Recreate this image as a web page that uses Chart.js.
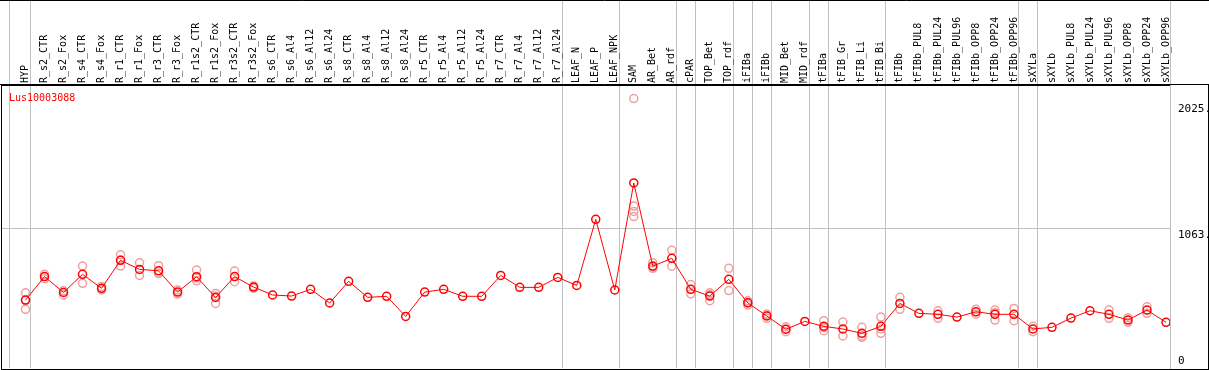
<!DOCTYPE html>
<html>
<head>
<meta charset="utf-8">
<script src="https://cdn.jsdelivr.net/npm/chart.js@4.4.1/dist/chart.umd.min.js"></script>
<style>
  html, body { margin: 0; padding: 0; background: #fff; }
  canvas { display: block; }
</style>
</head>
<body>
<canvas id="c" width="1209" height="370"></canvas>
<script>
// ---- data ----
const geneName = 'Lus10003088';

const categories = [
  'HYP', 'R_s2_CTR', 'R_s2_Fox', 'R_s4_CTR', 'R_s4_Fox', 'R_r1_CTR', 'R_r1_Fox',
  'R_r3_CTR', 'R_r3_Fox', 'R_r1s2_CTR', 'R_r1s2_Fox', 'R_r3s2_CTR', 'R_r3s2_Fox',
  'R_s6_CTR', 'R_s6_Al4', 'R_s6_Al12', 'R_s6_Al24', 'R_s8_CTR', 'R_s8_Al4',
  'R_s8_Al12', 'R_s8_Al24', 'R_r5_CTR', 'R_r5_Al4', 'R_r5_Al12', 'R_r5_Al24',
  'R_r7_CTR', 'R_r7_Al4', 'R_r7_Al12', 'R_r7_Al24', 'LEAF_N', 'LEAF_P', 'LEAF_NPK',
  'SAM', 'AR_Bet', 'AR_rdf', 'cPAR', 'TOP_Bet', 'TOP_rdf', 'iFIBa', 'iFIBb',
  'MID_Bet', 'MID_rdf', 'tFIBa', 'tFIB_Gr', 'tFIB_Li', 'tFIB_Bi', 'tFIBb',
  'tFIBb_PUL8', 'tFIBb_PUL24', 'tFIBb_PUL96', 'tFIBb_OPP8', 'tFIBb_OPP24', 'tFIBb_OPP96',
  'sXYLa', 'sXYLb', 'sXYLb_PUL8', 'sXYLb_PUL24', 'sXYLb_PUL96', 'sXYLb_OPP8',
  'sXYLb_OPP24', 'sXYLb_OPP96'
];

const meanValues = [
  517, 696, 575, 713, 607, 820, 751,
  740, 578, 695, 537, 696, 616,
  556, 548, 599, 495, 660, 538,
  546, 393, 578, 599, 546, 546,
  705, 614, 614, 690, 629, 1132, 594,
  1409, 776, 835, 599, 548, 675, 496, 396,
  295, 355, 317, 297, 264, 317, 492,
  416, 409, 388, 428, 409, 409,
  297, 310, 380, 436, 409, 365,
  441, 348
];

const replicateValues = [
  [573, 515, 447], [713, 680], [588, 556], [776, 645], [621, 595], [862, 822, 776], [801, 705],
  [779, 721, 720], [594, 563], [746, 685, 664], [568, 548, 492], [738, 657], [624, 607],
  [], [], [], [], [], [],
  [], [], [], [], [], [],
  [], [], [], [], [], [], [],
  [2052, 1233, 1192, 1153], [801, 769, 759], [896, 775], [635, 564], [573, 559, 512], [759, 590], [512, 497, 479], [411, 399, 378],
  [314, 295, 276], [], [360, 307, 284], [350, 244], [310, 244, 234], [388, 297, 264], [538, 447],
  [], [436, 378], [], [447, 410], [441, 421, 365], [454, 360],
  [318, 276], [], [], [], [441, 378], [382, 348],
  [466, 416], []
];

// group separators (drawn just after the last sample of each group)
const separatorAfter = [-1.07, 0, 28, 31, 34, 35, 37, 38, 39, 41, 42, 45, 52, 53, 60];

const yTickValues = [0, 1063, 2025];
const yTickLabels = ['0', '1063.', '2025.'];

// ---- build datasets ----
const SEP_SHIFT = 0.24;
const separators = separatorAfter.map(v => v + SEP_SHIFT);

const meanPoints = meanValues.map((v, i) => ({ x: i, y: v }));
const replicatePoints = [];
replicateValues.forEach((arr, i) => arr.forEach(v => replicatePoints.push({ x: i, y: v })));

const frame = {
  id: 'frame',
  afterDraw(chart) {
    const { ctx, chartArea: a, width } = chart;
    ctx.save();
    ctx.strokeStyle = '#000';
    ctx.lineWidth = 1;
    ctx.beginPath();
    ctx.moveTo(a.left + 0.5, a.top);
    ctx.lineTo(a.left + 0.5, a.bottom + 1.5);
    ctx.moveTo(a.left, a.bottom + 1.5);
    ctx.lineTo(width, a.bottom + 1.5);
    ctx.moveTo(width - 0.5, a.top);
    ctx.lineTo(width - 0.5, a.bottom + 1.5);
    ctx.moveTo(0, a.top - 0.5);
    ctx.lineTo(width, a.top - 0.5);
    ctx.moveTo(0, 0.5);
    ctx.lineTo(width, 0.5);
    ctx.stroke();
    ctx.fillStyle = '#ff0000';
    ctx.font = '10px "DejaVu Sans Mono", monospace';
    ctx.textBaseline = 'top';
    ctx.textAlign = 'left';
    ctx.fillText(geneName, a.left + 8, a.top + 8);
    ctx.restore();
  }
};

new Chart(document.getElementById('c'), {
  data: {
    datasets: [
      {
        type: 'line',
        data: meanPoints,
        borderColor: '#ff0000',
        borderWidth: 1,
        tension: 0,
        pointStyle: 'circle',
        pointRadius: 4,
        pointBorderWidth: 1.5,
        pointBorderColor: '#ff0000',
        pointBackgroundColor: 'rgba(0,0,0,0)',
        order: 0
      },
      {
        type: 'scatter',
        data: replicatePoints,
        showLine: false,
        pointStyle: 'circle',
        pointRadius: 4,
        pointBorderWidth: 1.5,
        pointBorderColor: '#f0a0a0',
        pointBackgroundColor: 'rgba(0,0,0,0)',
        order: 1
      }
    ]
  },
  options: {
    responsive: false,
    animation: false,
    devicePixelRatio: 1,
    layout: { autoPadding: false, padding: { left: 1, right: 0, top: 0, bottom: 2 } },
    plugins: { legend: { display: false }, tooltip: { enabled: false }, title: { display: false } },
    scales: {
      x: {
        type: 'linear',
        position: 'top',
        min: -1.289,
        max: 60.21,
        afterBuildTicks: s => {
          const cats = categories.map((_, i) => ({ value: i }));
          s.ticks = [cats[0]].concat(separators.map(v => ({ value: v })), cats.slice(1));
        },
        afterFit: s => { s.height = 85; s.paddingLeft = 0; s.paddingRight = 0; },
        ticks: {
          autoSkip: false,
          minRotation: 90,
          maxRotation: 90,
          padding: -83,
          labelOffset: 12,
          color: '#000',
          font: { family: 'DejaVu Sans Mono', size: 10 },
          callback: v => Number.isInteger(v) ? categories[v] : ''
        },
        grid: {
          drawOnChartArea: true,
          tickLength: 85,
          lineWidth: 1,
          color: ctx => (ctx.tick && !Number.isInteger(ctx.tick.value)) ? '#c0c0c0' : 'rgba(0,0,0,0)'
        },
        border: { display: true, color: '#000', width: 1 }
      },
      y: {
        type: 'linear',
        position: 'right',
        min: 0,
        max: 2155,
        afterBuildTicks: s => { s.ticks = yTickValues.map(v => ({ value: v })); },
        afterFit: s => { s.width = 39; s.paddingTop = 0; s.paddingBottom = 0; },
        ticks: {
          padding: 8,
          color: '#000',
          font: { family: '"Liberation Sans Narrow", "DejaVu Sans Mono"', size: 11 },
          callback: v => {
            const lbl = yTickLabels[yTickValues.indexOf(v)];
            return v === 0 ? [lbl, ''] : ['', lbl];
          }
        },
        grid: {
          drawTicks: false,
          lineWidth: 1,
          color: ctx => (ctx.tick && ctx.tick.value === 1063) ? '#c0c0c0' : 'rgba(0,0,0,0)'
        },
        border: { display: true, color: '#c0c0c0', width: 1 }
      }
    }
  },
  plugins: [frame]
});
</script>
</body>
</html>
